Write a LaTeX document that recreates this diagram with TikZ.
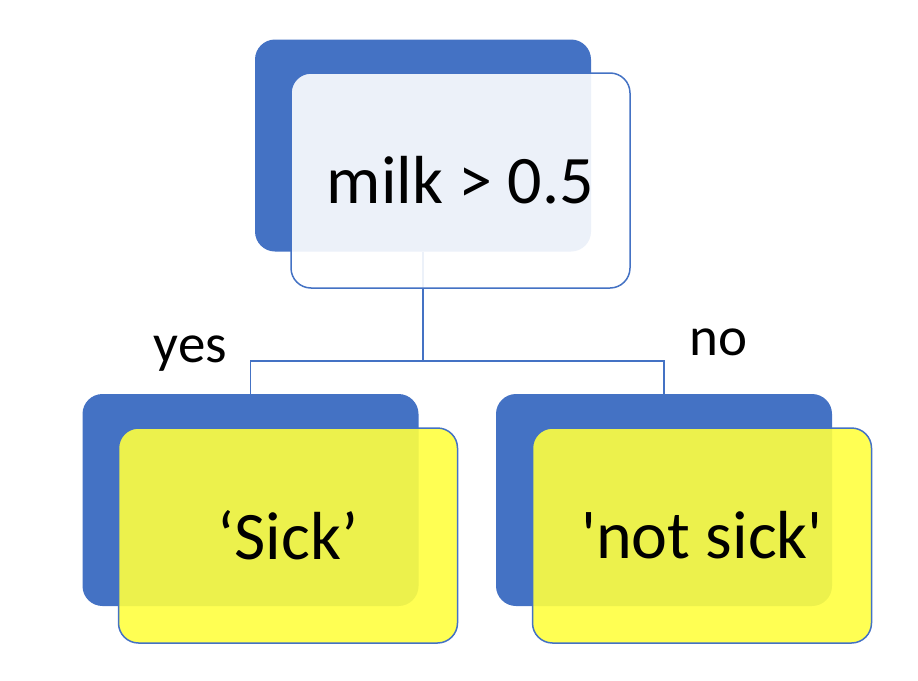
\documentclass[tikz,border=0pt]{standalone}
\usepackage{fontspec}
\setmainfont{Carlito}

\definecolor{officeblue}{RGB}{68,114,196}
\definecolor{leafyellow}{RGB}{255,255,64}

\begin{document}
\begin{tikzpicture}[x=1pt,y=-1pt,node distance=354.5pt,
	  back node/.style={rectangle,rounded corners=20pt,fill=officeblue,inner sep=0pt,
	    minimum width=336pt,minimum height=212pt},
	  front node/.style={rectangle,rounded corners=20pt,draw=officeblue,line width=1.5pt,
	    fill=white,fill opacity=0.9,text opacity=1,inner sep=0pt,
	    minimum width=339pt,minimum height=215pt,font=\fontsize{68}{80}\selectfont},
	  leaf node/.style={front node,fill=leafyellow},
	  branch text/.style={inner sep=0pt,anchor=base,font=\fontsize{55}{66}\selectfont}]

		\useasboundingbox (0,0) rectangle (918,680);

		\node[back node] (milkback) at (423,145.5) {};
		\node[back node] (sickback) [below of=milkback, xshift=-172.5pt] {};
		\node[back node] (notsickback) [below of=milkback, xshift=241pt] {};
		\coordinate (split) at (423,361);

	\path[draw=officeblue,line width=1.5pt]
		(milkback.south) -- (split) -| (sickback.north)
		(split) -| (notsickback.north);

		\node[front node] (milk) at ([shift={(37.5,35)}]milkback) {milk > 0.5};
		\node[leaf node] (sick) at ([shift={(37.5,35.5)}]sickback) {‘Sick’};
		\node[leaf node] (notsick) at ([shift={(38,35.5)}]notsickback) {\textquotesingle not sick\textquotesingle};

		\node[branch text] (yes) at (190.5,362) {yes};
		\node[branch text] (no) at (718.5,355) {no};

\end{tikzpicture}
\end{document}
